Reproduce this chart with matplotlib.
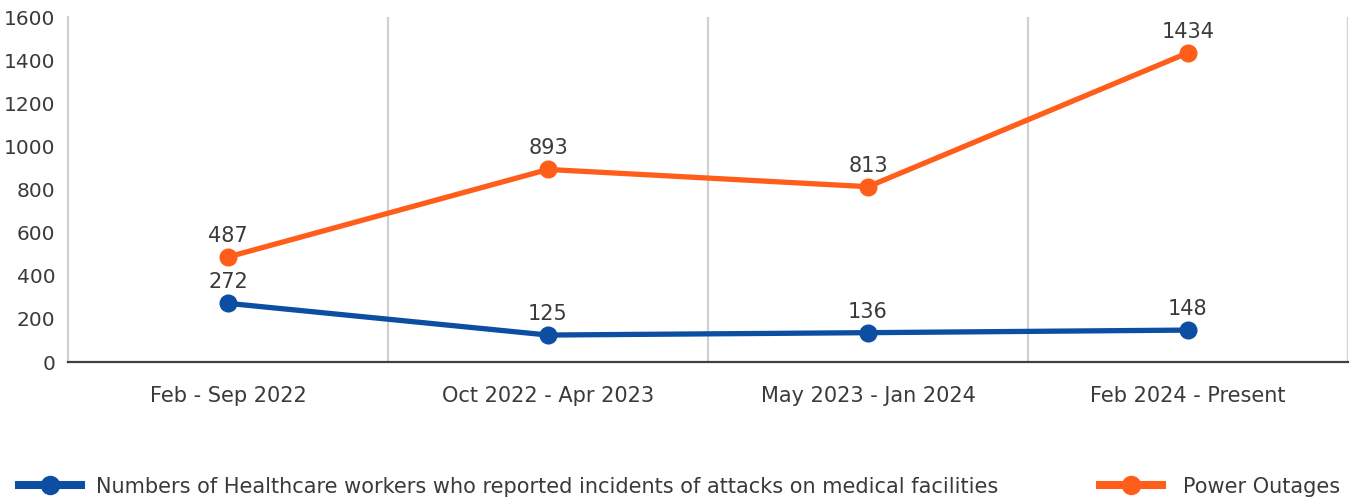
import matplotlib

matplotlib.use("Agg")
import matplotlib.pyplot as plt
from matplotlib.lines import Line2D

periods = ["Feb - Sep 2022", "Oct 2022 - Apr 2023", "May 2023 - Jan 2024", "Feb 2024 - Present"]
workers = [272, 125, 136, 148]
outages = [487, 893, 813, 1434]
yticks = [0, 200, 400, 600, 800, 1000, 1200, 1400, 1600]

C_BLUE, C_ORANGE = "#0B4EA2", "#FF5E1A"
TXT = "#3a3a3a"
plt.rcParams["font.family"] = ["DejaVu Sans"]

fig = plt.figure(figsize=(13.51, 4.98), dpi=100)
ax = fig.add_axes([68 / 1351, 1 - 362 / 498, 1280 / 1351, 345 / 498])

x = list(range(len(periods)))
ax.plot(x, workers, color=C_BLUE, lw=3.8, marker="o", ms=12)
ax.plot(x, outages, color=C_ORANGE, lw=3.8, marker="o", ms=12)
for xi, v in zip(x, workers):
    ax.annotate(str(v), (xi, v), xytext=(0, 8), textcoords="offset points",
                ha="center", va="bottom", fontsize=15, color=TXT)
for xi, v in zip(x, outages):
    ax.annotate(str(v), (xi, v), xytext=(0, 8), textcoords="offset points",
                ha="center", va="bottom", fontsize=15, color=TXT)

ax.set_xlim(-0.5, len(periods) - 0.5)
ax.set_ylim(0, 1600)
ax.set_yticks(yticks)
ax.set_xticks(x)
ax.set_xticklabels(periods)
ax.tick_params(axis="both", length=0, labelsize=14.5, colors=TXT)
ax.tick_params(axis="x", pad=17, labelsize=15)
ax.tick_params(axis="y", pad=9)
for b in [0.5, 1.5, 2.5, 3.5]:
    ax.axvline(b, color="#d0d0d0", lw=1.6, zorder=0)
for s in ["top", "right"]:
    ax.spines[s].set_visible(False)
ax.spines["left"].set_color("#d0d0d0")
ax.spines["left"].set_linewidth(1.6)
ax.spines["bottom"].set_color("#404040")
ax.spines["bottom"].set_linewidth(1.6)

hb = Line2D([], [], color=C_BLUE, lw=5.8, marker="o", ms=13)
ho = Line2D([], [], color=C_ORANGE, lw=5.8, marker="o", ms=13)
fig.legend([hb], ["Numbers of Healthcare workers who reported incidents of attacks on medical facilities"],
           loc="lower left", bbox_to_anchor=(0.0, -0.035), frameon=False, fontsize=15,
           handlelength=3.0, handletextpad=0.7, labelcolor=TXT)
fig.legend([ho], ["Power Outages"], loc="lower right", bbox_to_anchor=(1.006, -0.035), frameon=False,
           fontsize=15, handlelength=3.0, handletextpad=1.0, labelcolor=TXT)

fig.savefig("out.png", dpi=100)
